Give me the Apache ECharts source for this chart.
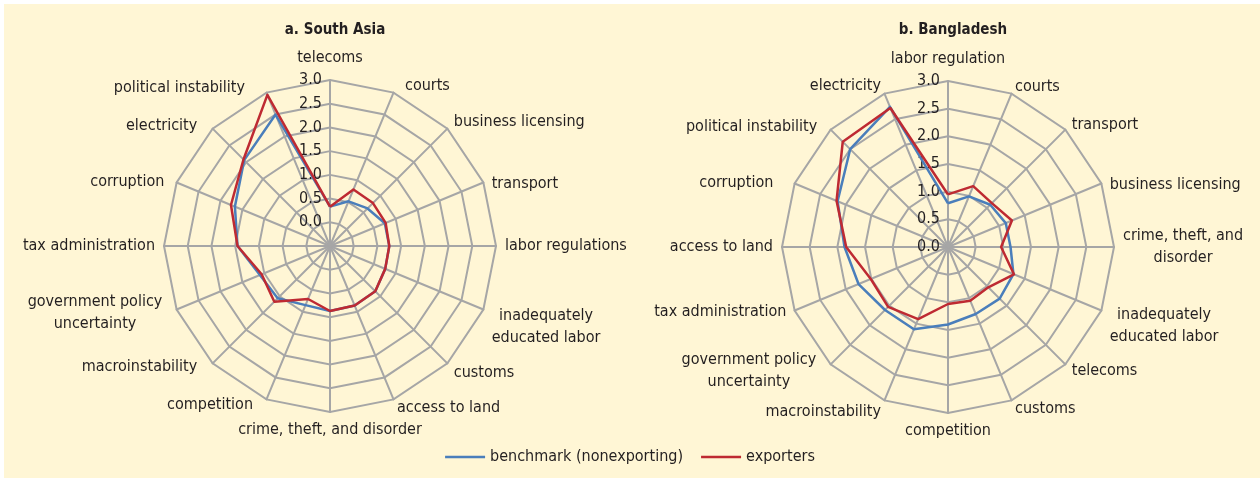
<!DOCTYPE html>
<html>
<head>
<meta charset="utf-8">
<script src="https://cdn.jsdelivr.net/npm/echarts@6/dist/echarts.min.js"></script>
<style>
  body { margin: 0; background: #fff; }
  #bg { position: absolute; left: 4px; top: 4px; width: 1256px; height: 474px; background: #FFF6D5; }
  #chart { position: absolute; left: 0; top: 0; width: 1260px; height: 478px; }
</style>
</head>
<body>
<div id="bg"></div>
<div id="chart"></div>
<script>
// a. South Asia (axes listed clockwise from the top)
const asiaAxes = ['telecoms', 'courts', 'business licensing', 'transport', 'labor regulations',
  'inadequately\neducated labor', 'customs', 'access to land', 'crime, theft, and disorder', 'competition',
  'macroinstability', 'government policy\nuncertainty', 'tax administration', 'corruption', 'electricity',
  'political instability']
const asiaBenchmark = [0.33, 0.52, 0.62, 0.75, 0.75, 0.76, 0.85, 0.86, 0.87, 0.85, 1.06, 1.10, 1.45, 1.67, 2.06, 2.50]
const asiaExporters = [0.33, 0.79, 0.78, 0.77, 0.75, 0.76, 0.85, 0.86, 0.87, 0.71, 1.16, 1.06, 1.45, 1.76, 2.08, 2.95]

// b. Bangladesh (axes listed clockwise from the top)
const bangAxes = ['labor regulation', 'courts', 'transport', 'business licensing', 'crime, theft, and\ndisorder',
  'inadequately\neducated labor', 'telecoms', 'customs', 'competition', 'macroinstability',
  'government policy\nuncertainty', 'tax administration', 'access to land', 'corruption', 'political instability',
  'electricity']
const bangBenchmark = [0.79, 0.99, 1.08, 1.13, 1.13, 1.28, 1.32, 1.31, 1.40, 1.61, 1.61, 1.75, 1.87, 2.16, 2.50, 2.74]
const bangExporters = [0.95, 1.19, 1.12, 1.25, 0.96, 1.29, 1.03, 1.05, 1.03, 1.41, 1.53, 1.51, 1.84, 2.18, 2.69, 2.72]

// extra label placement [outward px, downward px] per axis, to sit names where the original had them
const asiaNameShift = [[5, 0], [8, 2], [0, 0], [0, 5], [0, 0], [0, 14], [0, 3], [0, 0],
  [0, 0], [10, -3], [9, -3], [6, 0], [0, 0], [4, 3], [9, 4], [18, 4]]
const bangNameShift = [[5, 0], [0, 2], [0, 2], [0, 5], [0, 0], [0, 12], [0, 0], [0, 0],
  [0, 0], [0, 3], [8, 0], [0, -2], [0, 0], [13, 3], [7, 4], [0, 1]]

const seriesNames = ['benchmark (nonexporting)', 'exporters']
const blue = '#4A7EBB'
const red = '#BE2A32'
const gridGray = '#A6A6A6'
const textColor = '#231F20'
const font = "'Liberation Sans Narrow', 'DejaVu Sans Condensed', sans-serif"

// echarts radar runs counter-clockwise, so keep item 0 on top and reverse the rest
function clockwise (arr) {
  return [arr[0]].concat(arr.slice(1).reverse())
}

// turn an [out, down] shift into text padding, depending on which side the axis points to
function namePadding (i, shift) {
  const out = shift[0]
  const down = shift[1]
  const p = [0, 0, 0, 0] // top, right, bottom, left
  if (i === 0) p[2] += out
  else if (i === 8) p[0] += out
  else if (i < 8) p[3] += out
  else p[1] += out
  if (down > 0) p[0] += 2 * down
  else p[2] += -2 * down
  return p
}

function formatName (n) {
  const lines = n.split('\n')
  if (lines.length === 1) return '{s|' + n + '}'
  return lines.map(s => '{c|' + s + '}').join('\n')
}

function makeRadar (names, shifts, min, splits, center) {
  const ordered = names.map((n, i) => ({ name: n, i: i }))
  return {
    center: center,
    radius: 166,
    shape: 'polygon',
    splitNumber: splits,
    startAngle: 90,
    indicator: clockwise(ordered).map((d, k) => {
      const ind = {
        name: d.name,
        min: min,
        max: 3,
        nameTextStyle: { padding: namePadding(d.i, shifts[d.i]) }
      }
      // tick labels only on the vertical axis
      if (k === 0) ind.axisLabel = { show: true }
      return ind
    }),
    axisName: {
      color: textColor,
      fontSize: 16,
      fontFamily: font,
      formatter: formatName,
      rich: {
        c: { align: 'center', fontSize: 16, fontFamily: font, color: textColor, lineHeight: 22 },
        s: { fontSize: 16, fontFamily: font, color: textColor, lineHeight: 17 }
      }
    },
    nameGap: 9,
    axisLine: { lineStyle: { color: gridGray, width: 2 } },
    splitLine: { lineStyle: { color: gridGray, width: 2 } },
    splitArea: { show: false },
    axisLabel: {
      show: false,
      color: textColor,
      fontSize: 16,
      fontFamily: font,
      formatter: v => (v < 0 ? '' : v.toFixed(1))
    }
  }
}

function makeSeries (radarIndex, bench, exp) {
  return {
    type: 'radar',
    radarIndex: radarIndex,
    symbol: 'none',
    data: [
      { name: seriesNames[0], value: clockwise(bench), lineStyle: { color: blue, width: 2.5 }, itemStyle: { color: blue } },
      { name: seriesNames[1], value: clockwise(exp), lineStyle: { color: red, width: 2.5 }, itemStyle: { color: red } }
    ]
  }
}

const chart = echarts.init(document.getElementById('chart'))
chart.setOption({
  animation: false,
  color: [blue, red],
  title: [
    { text: 'a. South Asia', left: 330, top: 18, textAlign: 'center',
      textStyle: { fontSize: 15, fontWeight: 'bold', color: textColor, fontFamily: font } },
    { text: 'b. Bangladesh', left: 948, top: 18, textAlign: 'center',
      textStyle: { fontSize: 15, fontWeight: 'bold', color: textColor, fontFamily: font } }
  ],
  legend: {
    data: seriesNames,
    bottom: 8,
    left: 'center',
    icon: 'rect',
    itemWidth: 40,
    itemHeight: 2.5,
    itemGap: 18,
    textStyle: { fontSize: 16, color: textColor, fontFamily: font }
  },
  radar: [
    makeRadar(asiaAxes, asiaNameShift, -0.5, 7, [330, 246]),
    makeRadar(bangAxes, bangNameShift, 0, 6, [948, 247])
  ],
  series: [
    makeSeries(0, asiaBenchmark, asiaExporters),
    makeSeries(1, bangBenchmark, bangExporters)
  ]
})
</script>
</body>
</html>
